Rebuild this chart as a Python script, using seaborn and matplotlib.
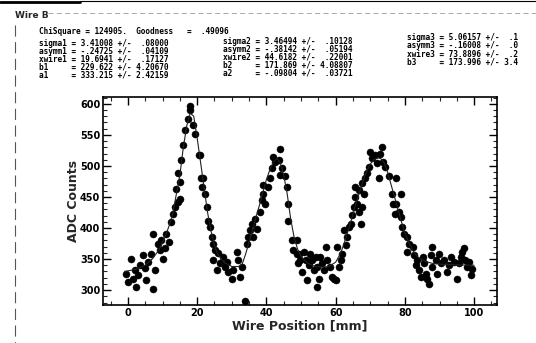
import matplotlib
matplotlib.use("Agg")
import matplotlib.pyplot as plt
import seaborn as sns
import pandas as pd
from matplotlib.ticker import MultipleLocator
from matplotlib.lines import Line2D

# ---- data ----
pos_x = [-0.5, 0.0, 1.0, 1.9, 1.4, 2.4, 2.9, 3.4, 4.3, 4.8, 5.3, 5.8, 6.7, 7.2, 7.7, 7.2, 8.7, 9.2, 9.6, 10.1,
         10.6, 11.1, 12.0, 12.5, 13.0, 13.5, 14.5, 14.9, 14.0, 14.9, 14.5, 15.4, 15.9, 16.4, 17.3, 17.8, 18.0, 18.8, 19.3, 20.5,
         21.2, 21.5, 20.8, 21.8, 22.3, 22.7, 23.2, 23.7, 24.2, 24.7, 25.1, 24.7, 25.6, 26.1, 26.6, 27.5, 28.0, 28.5, 29.0, 30.0,
         30.4, 31.4, 31.9, 32.4, 32.9, 33.8, 34.3, 34.8, 35.3, 35.7, 36.2, 36.7, 37.2, 38.1, 38.6, 39.1, 39.6, 39.1, 40.5, 41.0,
         41.5, 42.0, 42.5, 43.5, 43.9, 44.4, 43.9, 45.4, 45.9, 46.3, 46.3, 47.3, 47.8, 48.8, 49.2,
         48.8, 49.3, 49.8, 50.3, 50.8, 51.3, 51.7, 52.2, 52.7, 53.2, 53.7, 54.2, 54.6, 55.1, 54.6, 55.6, 56.1, 56.6, 57.1, 57.6,
         58.5, 59.0, 59.5, 60.0, 60.5, 61.0, 61.4, 61.9, 62.4, 62.9, 63.3, 63.8, 64.3, 64.8, 65.3, 65.7, 66.2, 66.7, 67.2, 67.6,
         65.7, 66.7, 67.6, 68.1, 68.6, 69.1, 69.6, 70.0, 70.5, 71.5, 71.9, 72.4, 72.9, 73.4, 73.8, 74.3, 75.3, 76.3, 76.7, 77.2,
         77.4, 78.8, 77.4, 78.3, 78.8, 79.3, 79.8, 80.7, 81.2, 80.7, 82.2, 82.6, 83.6, 83.1, 84.1, 84.6, 85.1, 85.5, 86.0, 86.5,
         87.0, 87.4, 87.9, 87.9, 88.9, 89.4, 89.9, 90.3, 91.3, 92.2, 92.7, 93.2, 94.2, 95.1, 95.6, 96.1, 96.6, 97.1, 97.5, 98.0,
         98.5, 99.0, 99.4]
adc = [326, 313, 350, 332, 318, 305, 324, 340, 356, 335, 316, 345, 358, 302, 332, 391, 375, 364, 380, 350,
       368, 391, 378, 410, 423, 434, 442, 447, 463, 474, 488, 509, 533, 558, 576, 590, 597, 566, 552, 517,
       480, 466, 517, 480, 455, 434, 412, 402, 386, 375, 364, 348, 332, 359, 343, 353, 337, 345, 329, 318,
       332, 361, 348, 321, 337, 283, 375, 386, 396, 407, 386, 415, 399, 426, 445, 455, 439, 469, 466, 480,
       496, 515, 507, 510, 528, 496, 485, 483, 466, 439, 412, 380, 364, 358, 343,
       380, 358, 348, 329, 361, 348, 316, 340, 358, 348, 332, 353, 337, 318, 305, 353, 343, 332, 369, 348,
       337, 321, 318, 316, 369, 337, 348, 358, 396, 372, 386, 402, 407, 421, 434, 450, 439, 426, 407, 434,
       466, 461, 472, 455, 480, 488, 499, 523, 512, 518, 504, 480, 520, 531, 507, 499, 483, 455, 439, 423,
       480, 455, 439, 426, 418, 402, 391, 386, 375, 361, 369, 356, 348, 340, 332, 321, 353, 343, 326, 318,
       310, 356, 369, 337, 348, 326, 358, 343, 348, 329, 340, 353, 345, 318, 343, 353, 361, 367, 348, 337,
       345, 324, 334]

fit_x = [-1, 1, 3, 5, 7, 9, 11, 12, 13, 14, 15, 16, 17, 18, 19, 20, 21, 22, 23, 24, 25, 26, 28, 30, 32,
         33, 34, 35, 36, 37, 38, 39, 40, 41, 42, 43, 44, 45, 46, 47, 48, 49, 50, 52, 54, 56, 58, 60, 61, 62,
         63, 64, 65, 66, 67, 68, 69, 70, 71, 72, 73, 74, 75, 76, 77, 78, 79, 80, 81, 82, 83, 84, 86, 88, 92, 100]
fit_y = [330, 332, 335, 340, 350, 365, 390, 405, 425, 455, 485, 530, 565, 585, 580, 545, 505, 465, 425, 395,
         372, 357, 344, 338, 338, 342, 358, 378, 398, 418, 437, 458, 478, 494, 506, 512, 505, 485, 455, 415,
         385, 366, 354, 343, 338, 337, 338, 345, 355, 368, 385, 403, 422, 442, 460, 477, 492, 503, 510, 513,
         512, 505, 490, 470, 450, 430, 410, 392, 378, 367, 358, 352, 346, 343, 341, 340]

x_ticks = [0, 20, 40, 60, 80, 100]
y_ticks = [300, 350, 400, 450, 500, 550, 600]

header = "Wire B"
chi_line = "ChiSquare = 124905.  Goodness   =  .49096"
col1 = ["sigma1 = 3.41008 +/-  .08000",
        "asymm1 = -.24725 +/-  .04109",
        "xwire1 = 19.6941 +/-  .17127",
        "b1     = 229.622 +/- 4.20670",
        "a1     = 333.215 +/- 2.42159"]
col2 = ["sigma2 = 3.46494 +/-  .10128",
        "asymm2 = -.38142 +/-  .05194",
        "xwire2 = 44.6182 +/-  .22001",
        "b2     = 171.869 +/- 4.08807",
        "a2     = -.09804 +/-  .03721"]
col3 = ["sigma3 = 5.06157 +/-  .1",
        "asymm3 = -.16008 +/-  .0",
        "xwire3 = 73.8896 +/-  .2",
        "b3     = 173.996 +/- 3.4"]

pts = pd.DataFrame({"x": pos_x, "y": adc})
fit = pd.DataFrame({"x": fit_x, "y": fit_y})

sns.set_theme(style="ticks")
plt.rcParams['font.family'] = ['DejaVu Sans']

W, H = 536, 343
fig = plt.figure(figsize=(W / 100, H / 100), dpi=100)
fig.patch.set_facecolor("white")
ax = fig.add_axes([103 / W, 1 - 305 / H, (497 - 103) / W, (305 - 97) / H])
ax.set_facecolor("white")

sns.lineplot(data=fit, x="x", y="y", ax=ax, color="#222222", lw=0.8, estimator=None, sort=False)
sns.scatterplot(data=pts, x="x", y="y", ax=ax, color="black", s=26, edgecolor="black", linewidth=0.3)

ax.set_xlim(-7.2, 106.6)
ax.set_ylim(276, 611)
ax.set_xticks(x_ticks)
ax.set_yticks(y_ticks)
ax.xaxis.set_minor_locator(MultipleLocator(5))
ax.yaxis.set_minor_locator(MultipleLocator(10))
ax.tick_params(which="major", direction="in", length=6, width=1.0, top=True, right=True,
               labelsize=7, pad=2, colors="black")
ax.tick_params(which="minor", direction="in", length=3, width=0.8, top=True, right=True)
for lab in ax.get_xticklabels() + ax.get_yticklabels():
    lab.set_fontweight("bold")
for sp in ax.spines.values():
    sp.set_visible(True)
    sp.set_linewidth(1.2)
    sp.set_color("black")
ax.set_xlabel("Wire Position [mm]", fontsize=9, fontweight="bold", labelpad=1)
ax.set_ylabel("ADC Counts", fontsize=9, fontweight="bold", labelpad=0)


def fx(px):
    return px / W


def fy(py):
    return 1 - py / H


# frame decorations of the scanned page
fig.add_artist(Line2D([fx(0), fx(80)], [fy(1.5), fy(1.5)], color="black", lw=2.0))
fig.add_artist(Line2D([fx(80), fx(536)], [fy(1.0), fy(1.0)], color="black", lw=0.8))
fig.add_artist(Line2D([fx(48), fx(536)], [fy(13), fy(13)], color="#9a9a9a", lw=0.6, ls=(0, (6, 4))))
fig.add_artist(Line2D([fx(15), fx(15)], [fy(25), fy(343)], color="#555555", lw=0.8, ls=(0, (10, 5))))

mono = dict(family="DejaVu Sans Mono", fontweight="bold", fontsize=5.6, va="center", ha="left", color="black")
fig.text(fx(15), fy(15), header, family="DejaVu Sans", fontweight="bold", fontsize=6.5, va="center", ha="left")
fig.text(fx(39), fy(31), chi_line, **mono)
for i, s in enumerate(col1):
    fig.text(fx(39), fy(43 + 8 * i), s, **mono)
for i, s in enumerate(col2):
    fig.text(fx(223), fy(41 + 8 * i), s, **mono)
for i, s in enumerate(col3):
    fig.text(fx(407), fy(38 + 8 * i), s, **mono)

fig.savefig("out.png", dpi=100)
